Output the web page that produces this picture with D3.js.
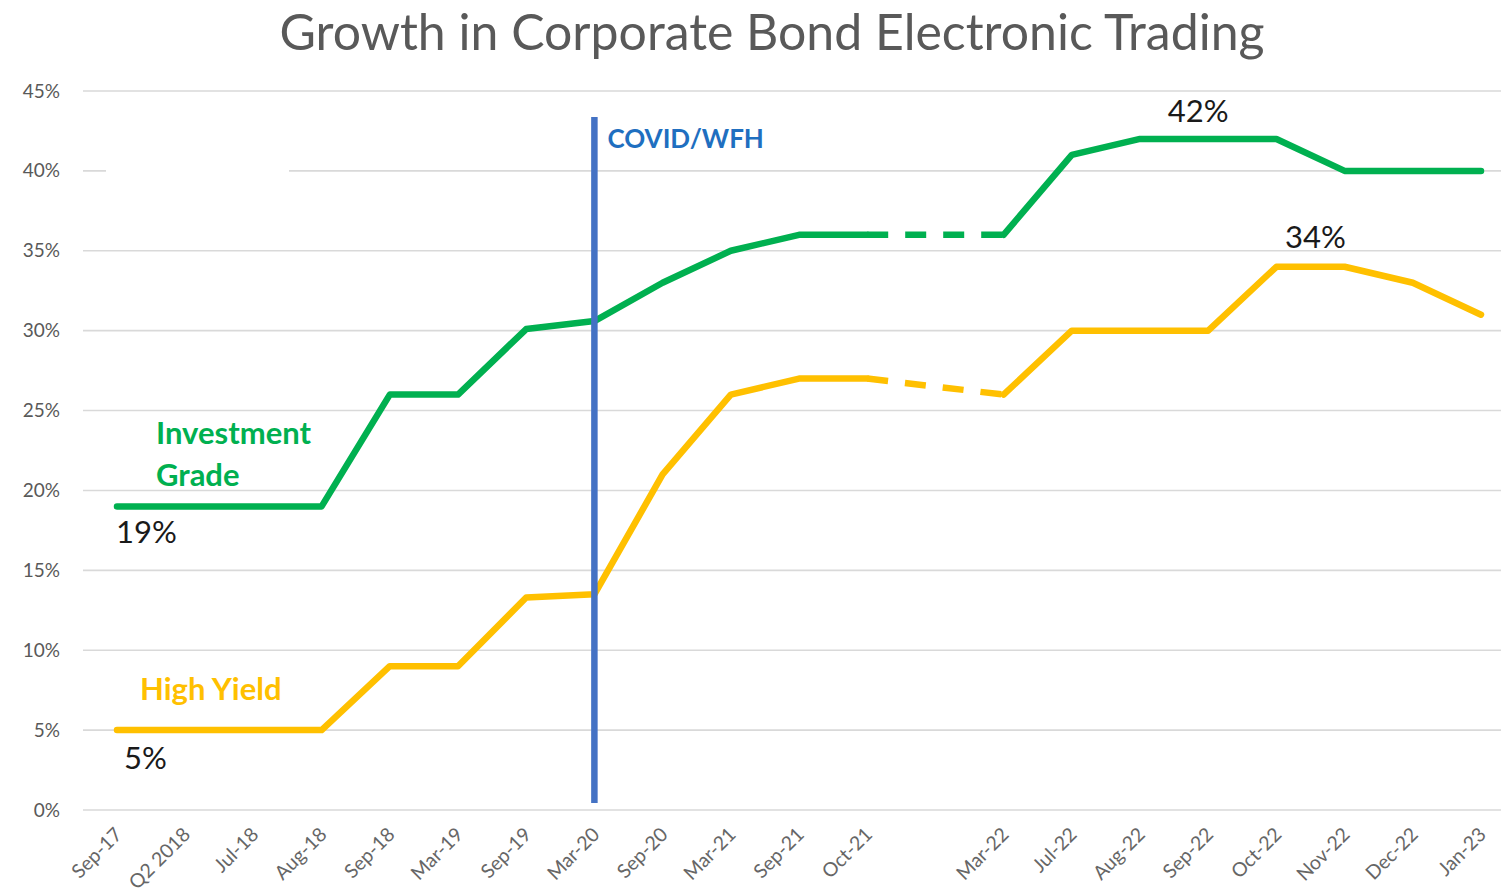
<!DOCTYPE html>
<html>
<head>
<meta charset="utf-8">
<script src="https://cdn.jsdelivr.net/npm/d3@7"></script>
<style>
  html, body { margin: 0; padding: 0; background: #fff; }
  svg { display: block; font-family: Lato, "Open Sans", sans-serif; }
</style>
</head>
<body>
<svg id="chart" width="1501" height="895"></svg>
<script>
// Survey periods (one empty slot separates Oct-21 from Mar-22)
const categories = ["Sep-17", "Q2 2018", "Jul-18", "Aug-18", "Sep-18", "Mar-19", "Sep-19",
  "Mar-20", "Sep-20", "Mar-21", "Sep-21", "Oct-21", "", "Mar-22", "Jul-22", "Aug-22",
  "Sep-22", "Oct-22", "Nov-22", "Dec-22", "Jan-23"];

// Share of volume traded electronically, in percent (null = no survey)
const investmentGrade = [19, 19, 19, 19, 26, 26, 30.1, 30.6, 33, 35, 36, 36, null, 36,
  41, 42, 42, 42, 40, 40, 40];
const highYield = [5, 5, 5, 5, 9, 9, 13.3, 13.5, 21, 26, 27, 27, null, 26,
  30, 30, 30, 34, 34, 33, 31];

const yTicks = [0, 5, 10, 15, 20, 25, 30, 35, 40, 45];
const covidPeriod = "Mar-20";

const svg = d3.select("#chart");
const gridLeft = 83, gridRight = 1501;

const x = d3.scalePoint().domain(d3.range(categories.length)).range([117, 1481]);
const y = d3.scaleLinear().domain([0, 45]).range([810, 91]);

// Title
svg.append("text")
  .attr("x", 772).attr("y", 50)
  .attr("text-anchor", "middle")
  .attr("fill", "#595959")
  .attr("font-size", 51)
  .attr("textLength", 985)
  .attr("lengthAdjust", "spacingAndGlyphs")
  .text("Growth in Corporate Bond Electronic Trading");

// Horizontal gridlines
svg.append("g").selectAll("line").data(yTicks).join("line")
  .attr("x1", gridLeft).attr("x2", gridRight)
  .attr("y1", d => y(d)).attr("y2", d => y(d))
  .attr("stroke", "#d9d9d9").attr("stroke-width", 1.6);

// a blank text box sits over part of the 40% gridline
svg.append("rect").attr("x", 106).attr("y", y(40) - 4).attr("width", 183).attr("height", 8)
  .attr("fill", "#fff");

// Y axis labels
const yAxis = d3.axisLeft(y).tickValues(yTicks).tickSize(0).tickPadding(0)
  .tickFormat(d => d + "%");
svg.append("g").attr("transform", "translate(60,0)").call(yAxis)
  .call(g => g.select(".domain").remove())
  .call(g => g.selectAll("text")
    .attr("fill", "#595959").attr("font-size", 19).attr("font-family", "Lato, sans-serif"));

// X axis labels, rotated
const xAxis = d3.axisBottom(x).tickSize(0).tickPadding(0).tickFormat(i => categories[i]);
svg.append("g").attr("transform", "translate(0,826)").call(xAxis)
  .call(g => g.select(".domain").remove())
  .call(g => g.selectAll("text")
    .attr("fill", "#666666").attr("font-size", 19.5).attr("font-family", "Lato, sans-serif")
    .attr("text-anchor", "end")
    .attr("dy", "0.35em")
    .attr("transform", "translate(1,5) rotate(-45)"));

// Series lines: solid where data exists, dashed across the missing period
function drawSeries(values, color) {
  const pts = values.map((v, i) => ({ i, v }));
  const line = d3.line().defined(d => d.v != null).x(d => x(d.i)).y(d => y(d.v));
  svg.append("path").datum(pts)
    .attr("d", line)
    .attr("fill", "none").attr("stroke", color).attr("stroke-width", 6.5)
    .attr("stroke-linecap", "round").attr("stroke-linejoin", "round");

  const present = pts.filter(d => d.v != null);
  for (let k = 1; k < present.length; k++) {
    if (present[k].i - present[k - 1].i > 1) {
      svg.append("path").datum([present[k - 1], present[k]])
        .attr("d", d3.line().x(d => x(d.i)).y(d => y(d.v)))
        .attr("fill", "none").attr("stroke", color).attr("stroke-width", 6.5)
        .attr("stroke-dasharray", "21,17");
    }
  }
}

drawSeries(highYield, "#FFC000");
drawSeries(investmentGrade, "#00B050");

// COVID / work-from-home marker
const covidX = x(categories.indexOf(covidPeriod));
svg.append("line")
  .attr("x1", covidX).attr("x2", covidX)
  .attr("y1", 117).attr("y2", 803)
  .attr("stroke", "#4472C4").attr("stroke-width", 6.5);
svg.append("text")
  .attr("x", covidX + 13).attr("y", 148)
  .attr("fill", "#1F6FC0").attr("font-weight", 700).attr("font-size", 26)
  .text("COVID/WFH");

// Series names
const igLabel = svg.append("text").attr("fill", "#00B050").attr("font-weight", 700)
  .attr("font-size", 31);
igLabel.append("tspan").attr("x", 156).attr("y", 444).text("Investment");
igLabel.append("tspan").attr("x", 156).attr("y", 486).text("Grade");
svg.append("text").attr("x", 140).attr("y", 700)
  .attr("fill", "#FFC000").attr("font-weight", 700).attr("font-size", 31)
  .text("High Yield");

// Value call-outs
const fmt = v => Math.round(v) + "%";
const callout = (xPos, yPos, anchor, v) => svg.append("text")
  .attr("x", xPos).attr("y", yPos).attr("text-anchor", anchor)
  .attr("fill", "#1a1a1a").attr("font-size", 31).text(fmt(v));

callout(x(0) - 1, y(investmentGrade[0]) + 37, "start", investmentGrade[0]);
callout(x(0) + 7, y(highYield[0]) + 39, "start", highYield[0]);
const igMax = d3.max(investmentGrade), hyMax = d3.max(highYield);
callout(x(categories.indexOf("Sep-22")) - 10, y(igMax) - 17, "middle", igMax);
callout((x(categories.indexOf("Oct-22")) + x(categories.indexOf("Nov-22"))) / 2 + 5,
  y(hyMax) - 19, "middle", hyMax);
</script>
</body>
</html>
